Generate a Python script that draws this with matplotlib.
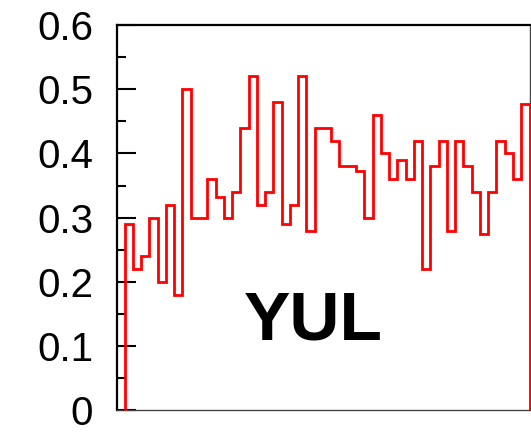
import numpy as np
import matplotlib.pyplot as plt
from matplotlib.ticker import MultipleLocator

# fraction per bin, station YUL
values = [0.29, 0.22, 0.24, 0.30, 0.20, 0.32, 0.18, 0.50, 0.30, 0.30,
          0.36, 0.333, 0.30, 0.34, 0.44, 0.52, 0.32, 0.34, 0.48, 0.29,
          0.32, 0.52, 0.28, 0.44, 0.44, 0.42, 0.38, 0.38, 0.373, 0.30,
          0.46, 0.40, 0.36, 0.39, 0.36, 0.42, 0.22, 0.38, 0.42, 0.28,
          0.42, 0.38, 0.34, 0.275, 0.34, 0.42, 0.40, 0.36, 0.477]
edges = np.arange(len(values) + 1)
yticks = [0, 0.1, 0.2, 0.3, 0.4, 0.5, 0.6]
ytick_labels = ['0', '0.1', '0.2', '0.3', '0.4', '0.5', '0.6']
station = 'YUL'

plt.rcParams['font.family'] = ['Liberation Sans', 'DejaVu Sans']

fig = plt.figure(figsize=(5.31, 4.33), dpi=100)
ax = fig.add_axes([0.2203, 0.052, 0.7769, 0.8903])

ax.stairs(values, edges, baseline=0, color='red', linewidth=2.0,
          clip_on=False, zorder=3)

ax.set_xlim(-0.93, len(values))
ax.set_ylim(0, 0.6)
ax.set_xticks([])
ax.set_yticks(yticks)
ax.set_yticklabels(ytick_labels)
ax.yaxis.set_minor_locator(MultipleLocator(0.05))
ax.tick_params(axis='y', which='major', direction='in', length=14, width=1.5,
               labelsize=29, pad=17)
ax.tick_params(axis='y', which='minor', direction='in', length=6.5, width=1.5)

ax.spines['left'].set_linewidth(1.6)
ax.spines['top'].set_linewidth(1.6)
ax.spines['right'].set_linewidth(1.0)
ax.spines['right'].set_color('#444444')
ax.spines['bottom'].set_linewidth(1.0)
ax.spines['bottom'].set_color('#444444')

ax.text(0.475, 0.23, station, transform=ax.transAxes, ha='center', va='center',
        fontsize=50, fontweight='bold', color='black')

fig.savefig('out.png', dpi=100)
